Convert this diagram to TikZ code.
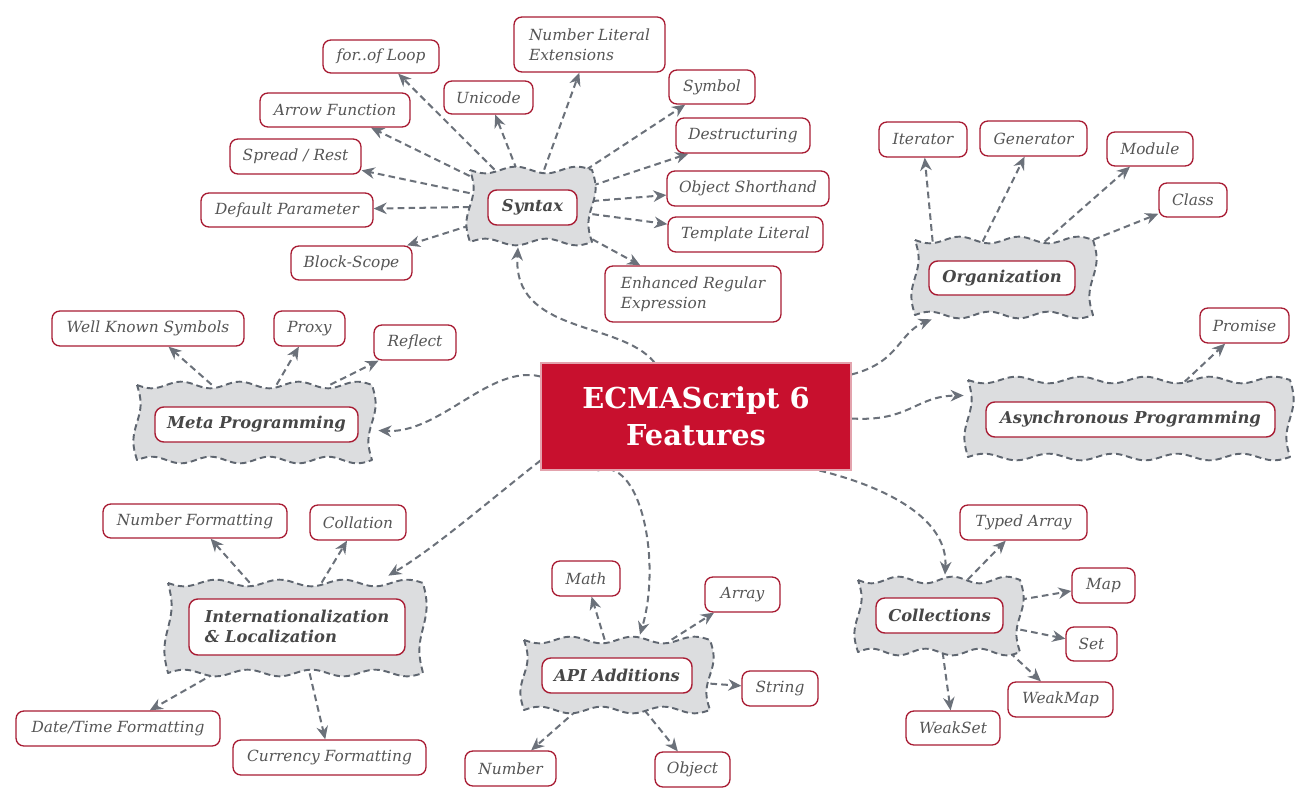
\documentclass[tikz,border=0pt]{standalone}
\usepackage{fontspec}
\setmainfont{DejaVu Serif}
\usetikzlibrary{arrows.meta,calc,backgrounds}
\definecolor{leafred}{HTML}{A81C33}
\definecolor{leaftext}{HTML}{555555}
\definecolor{labeltext}{HTML}{474747}
\definecolor{wfill}{HTML}{DCDDDF}
\definecolor{wline}{HTML}{5F6670}
\definecolor{cline}{HTML}{6B717A}
\definecolor{mainred}{HTML}{C8102E}
\definecolor{mainedge}{HTML}{E3A3AD}
\tikzset{
  sz/.style 2 args={minimum width=#1*0.02cm, minimum height=#2*0.02cm},
  wavystyle/.style={draw=wline, fill=wfill, line width=1.1pt, dash pattern=on 3.6pt off 2.2pt, line join=round}
}
% name, cx, cy, w, h
\newcommand\wavybox[5]{%
  \node[sz={#4}{#5}, inner sep=0pt] (#1) at (#2,#3) {};
  \pgfmathsetmacro\wxa{#2-#4/2}\pgfmathsetmacro\wxb{#2+#4/2}%
  \pgfmathsetmacro\wya{#3-#5/2}\pgfmathsetmacro\wyb{#3+#5/2}%
  \pgfmathsetmacro\wka{360/(#4/max(1,round(#4/64)))}%
  \pgfmathsetmacro\wkb{360/#5}%
  \path[wavystyle]
    plot[domain=\wxa:\wxb, samples=120, smooth] (\x,{\wya+3.3*sin(\wka*(\x-\wxa))})
    -- plot[domain=\wya:\wyb, samples=40, smooth] ({\wxb+3.6*sin(\wkb*(\x-\wya))},\x)
    -- plot[domain=\wxb:\wxa, samples=120, smooth] (\x,{\wyb-3.3*sin(\wka*(\x-\wxa))})
    -- plot[domain=\wyb:\wya, samples=40, smooth] ({\wxa+3.6*sin(\wkb*(\x-\wya))},\x)
    -- cycle;%
}
\begin{document}
\begin{tikzpicture}[x=0.02cm,y=-0.02cm,
  leaf/.style={draw=leafred, line width=0.75pt, rounded corners=4.5pt, fill=white,
    text=leaftext, font=\fontsize{8.75}{11.3}\selectfont\itshape, inner sep=0pt, align=left},
  inner/.style={draw=leafred, line width=0.8pt, rounded corners=5pt, fill=white,
    text=labeltext, font=\fontsize{9.3}{11.3}\selectfont\bfseries\itshape, inner sep=0pt, align=left},
  mainbox/.style={fill=mainred, draw=mainedge, line width=0.6pt, text=white, align=center,
    font=\fontsize{16.4}{21}\selectfont\bfseries, inner sep=0pt},
  conn/.style={draw=cline, line width=1.15pt, dash pattern=on 3.8pt off 2.4pt,
    -{Stealth[length=2.6mm,width=2.3mm]}}]
\useasboundingbox (0,0) rectangle (1311,804);

% ---------- central node ----------
\node[mainbox, sz={310}{107}] (c) at (696,416.5) {ECMAScript 6\\Features};

% ---------- wavy group nodes ----------
\wavybox{syn}{531}{206}{122}{72}
\node[inner, sz={89}{35}] (synT) at (532.5,207.5) {Syntax};

\wavybox{org}{1004}{277.5}{178}{75}
\node[inner, sz={146}{34}] (orgT) at (1002,278) {Organization};

\wavybox{asy}{1129}{418.5}{322}{77}
\node[inner, sz={289}{35}] (asyT) at (1130.5,419.5) {Asynchronous Programming};

\wavybox{meta}{254.5}{422.5}{235}{75}
\node[inner, sz={203}{35}] (metaT) at (256.5,424.5) {Meta Programming};

\wavybox{intl}{295.5}{628}{255}{90}
\node[inner, sz={216}{56}] (intlT) at (297,627) {Internationalization\\\& Localization};

\wavybox{api}{617}{675}{186}{70}
\node[inner, sz={150}{35}] (apiT) at (617,675.5) {API Additions};

\wavybox{coll}{939}{616}{162}{72}
\node[inner, sz={127}{35}] (collT) at (939.5,615.5) {Collections};

% ---------- leaves: Syntax ----------
\node[leaf, sz={116}{33}] (forof) at (381,56.5) {for..of Loop};
\node[leaf, sz={89}{33}] (unicode) at (488.5,97.5) {Unicode};
\node[leaf, sz={151}{55}] (numlit) at (589.5,44.5) {Number Literal\\Extensions};
\node[leaf, sz={86}{34}] (symbol) at (712,87) {Symbol};
\node[leaf, sz={134}{35}] (destr) at (743,135.5) {Destructuring};
\node[leaf, sz={162}{35}] (objsh) at (748,188.5) {Object Shorthand};
\node[leaf, sz={155}{35}] (templ) at (745.5,234.5) {Template Literal};
\node[leaf, sz={176}{56}] (enhre) at (693,294) {Enhanced Regular\\Expression};
\node[leaf, sz={150}{34}] (arrowf) at (335,110) {Arrow Function};
\node[leaf, sz={131}{35}] (spread) at (295.5,156.5) {Spread / Rest};
\node[leaf, sz={172}{34}] (defpar) at (287,210) {Default Parameter};
\node[leaf, sz={121}{34}] (block) at (351.5,263) {Block-Scope};

% ---------- leaves: Organization ----------
\node[leaf, sz={88}{35}] (iter) at (923,139.5) {Iterator};
\node[leaf, sz={107}{35}] (gen) at (1033.5,138.5) {Generator};
\node[leaf, sz={86}{34}] (module) at (1150,149) {Module};
\node[leaf, sz={68}{34}] (class) at (1193,200) {Class};

% ---------- leaves: Async ----------
\node[leaf, sz={89}{35}] (promise) at (1244.5,325.5) {Promise};

% ---------- leaves: Meta ----------
\node[leaf, sz={192}{35}] (wks) at (148,328.5) {Well Known Symbols};
\node[leaf, sz={71}{35}] (proxy) at (309.5,328.5) {Proxy};
\node[leaf, sz={82}{35}] (reflect) at (415,342.5) {Reflect};

% ---------- leaves: Intl ----------
\node[leaf, sz={184}{34}] (numfmt) at (195,521) {Number Formatting};
\node[leaf, sz={96}{35}] (collation) at (358,522.5) {Collation};
\node[leaf, sz={204}{35}] (datefmt) at (118,728.5) {Date/Time Formatting};
\node[leaf, sz={193}{35}] (curfmt) at (329.5,757.5) {Currency Formatting};

% ---------- leaves: API ----------
\node[leaf, sz={68}{35}] (math) at (586,578.5) {Math};
\node[leaf, sz={75}{35}] (array) at (742.5,594.5) {Array};
\node[leaf, sz={76}{35}] (string) at (780,688.5) {String};
\node[leaf, sz={91}{35}] (number) at (510.5,768.5) {Number};
\node[leaf, sz={75}{35}] (object) at (692.5,769.5) {Object};

% ---------- leaves: Collections ----------
\node[leaf, sz={127}{35}] (typed) at (1023.5,522.5) {Typed Array};
\node[leaf, sz={63}{35}] (map) at (1103.5,585.5) {Map};
\node[leaf, sz={51}{34}] (set) at (1091.5,644) {Set};
\node[leaf, sz={105}{35}] (weakmap) at (1060.5,699.5) {WeakMap};
\node[leaf, sz={94}{34}] (weakset) at (953,728) {WeakSet};

% ---------- connectors ----------
\begin{scope}[on background layer]
% central curves
\draw[conn] ($(c.north west)+(114,0)$) .. controls (620,320) and (512,335) .. ($(syn.south)+(-13,5)$);
\draw[conn] ($(c.north east)+(0,12)$) .. controls (900,362) and (898,333) .. ($(org.south west)+(17,4)$);
\draw[conn] ($(c.east)+(0,2)$) .. controls (910,422) and (915,396) .. ($(asy.west)+(-4,-23)$);
\draw[conn] ($(c.north west)+(0,14)$) .. controls (490,364) and (440,434) .. ($(meta.east)+(6,8)$);
\draw[conn] ($(c.south west)+(0,-10)$) .. controls (490,500) and (435,548) .. ($(intl.north east)+(-35,-7)$);
\draw[conn] ($(c.south west)+(57,0)$) .. controls (640,455) and (662,560) .. ($(api.north)+(23,-5)$);
\draw[conn] ($(c.south west)+(279,0)$) .. controls (890,488) and (948,520) .. ($(coll.north)+(6,-5)$);

% Syntax
\foreach \t in {forof,unicode,numlit,symbol,destr,objsh,templ,enhre,arrowf,spread,defpar,block}
  \draw[conn] (syn) -- (\t);
% Meta
\foreach \t in {wks,proxy,reflect}
  \draw[conn] (meta) -- (\t);
% Organization
\draw[conn] ($(org.north west)+(18,2)$) -- (iter);
\draw[conn] ($(org.north west)+(68,2)$) -- (gen);
\draw[conn] ($(org.north west)+(130,2)$) -- (module);
\draw[conn] (org.north east) -- (class);
% Async
\draw[conn] ($(asy.north west)+(217,2)$) -- (promise);
% Intl
\draw[conn] ($(intl.north west)+(82,0)$) -- (numfmt);
\draw[conn] ($(intl.north west)+(154,0)$) -- (collation);
\draw[conn] ($(intl.south west)+(47,0)$) -- (datefmt);
\draw[conn] ($(intl.south west)+(142,0)$) -- (curfmt);
% API
\draw[conn] ($(api.north west)+(81,0)$) -- (math);
\draw[conn] ($(api.north west)+(148,0)$) -- (array);
\draw[conn] ($(api.north east)+(0,44)$) -- (string);
\draw[conn] ($(api.south west)+(53,0)$) -- (number);
\draw[conn] ($(api.south west)+(121,0)$) -- (object);
% Collections
\draw[conn] ($(coll.north west)+(110,0)$) -- (typed);
\draw[conn] ($(coll.north east)+(0,20)$) -- (map);
\draw[conn] ($(coll.north east)+(0,50)$) -- (set);
\draw[conn] ($(coll.south west)+(152,0)$) -- (weakmap);
\draw[conn] ($(coll.south west)+(85,0)$) -- (weakset);
\end{scope}
\end{tikzpicture}
\end{document}
